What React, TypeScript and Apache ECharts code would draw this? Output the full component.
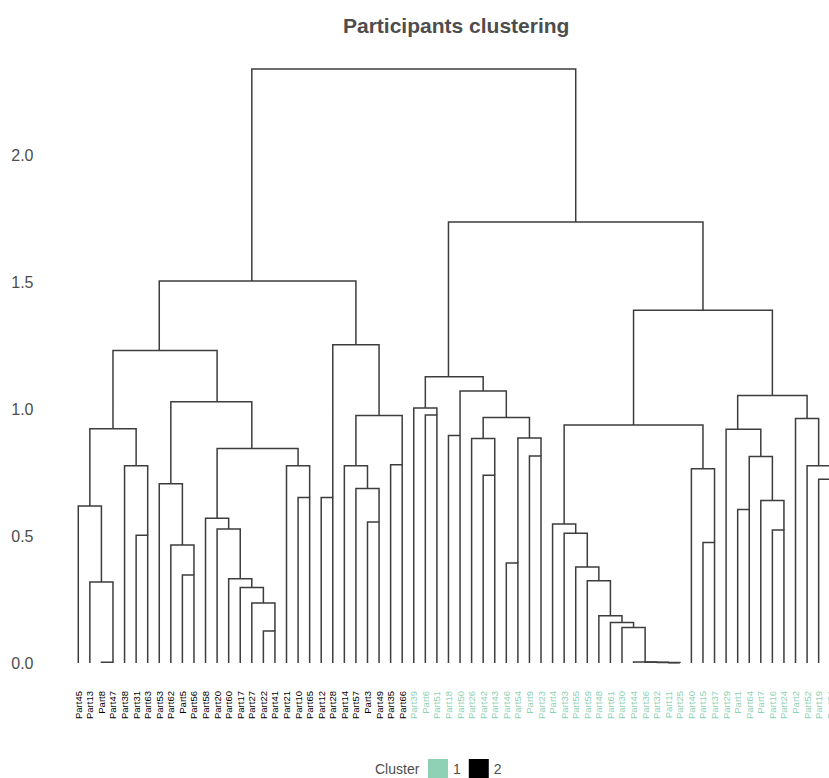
import React, { useEffect, useRef } from "react";
import * as echarts from "echarts";

// Leaf order (left to right) as shown in the dendrogram
const leaves = [
  "Part45", "Part13", "Part8", "Part47", "Part38", "Part31", "Part63", "Part53", "Part62", "Part5",
  "Part56", "Part58", "Part20", "Part60", "Part17", "Part27", "Part22", "Part41", "Part21", "Part10",
  "Part65", "Part12", "Part28", "Part14", "Part57", "Part3", "Part49", "Part35", "Part66", "Part39",
  "Part6", "Part51", "Part18", "Part50", "Part26", "Part42", "Part43", "Part46", "Part54", "Part9",
  "Part23", "Part4", "Part33", "Part55", "Part59", "Part48", "Part61", "Part30", "Part44", "Part36",
  "Part32", "Part11", "Part25", "Part40", "Part15", "Part37", "Part29", "Part1", "Part64", "Part7",
  "Part16", "Part24", "Part2", "Part52", "Part19", "Part34",
];

// Cluster of each leaf (same order as leaves)
const leafCluster = [
  2, 2, 2, 2, 2, 2, 2, 2, 2, 2, 2, 2, 2, 2, 2, 2, 2, 2, 2, 2, 2, 2, 2, 2, 2, 2, 2, 2, 2,
  1, 1, 1, 1, 1, 1, 1, 1, 1, 1, 1, 1, 1, 1, 1, 1, 1, 1, 1, 1, 1, 1, 1, 1, 1, 1, 1, 1, 1,
  1, 1, 1, 1, 1, 1, 1, 1,
];

// Merges: [left, right, height]; a string is a leaf, a number is an earlier merge
const merges: [string | number, string | number, number][] = [
  ["Part8", "Part47", 0.003], // 0
  ["Part13", 0, 0.319], // 1
  ["Part45", 1, 0.618], // 2
  ["Part31", "Part63", 0.503], // 3
  ["Part38", 3, 0.777], // 4
  [2, 4, 0.922], // 5
  ["Part5", "Part56", 0.346], // 6
  ["Part62", 6, 0.465], // 7
  ["Part53", 7, 0.706], // 8
  ["Part22", "Part41", 0.126], // 9
  ["Part27", 9, 0.236], // 10
  ["Part17", 10, 0.297], // 11
  ["Part60", 11, 0.332], // 12
  ["Part20", 12, 0.528], // 13
  ["Part58", 13, 0.57], // 14
  ["Part10", "Part65", 0.652], // 15
  ["Part21", 15, 0.777], // 16
  [14, 16, 0.844], // 17
  [8, 17, 1.029], // 18
  [5, 18, 1.23], // 19
  ["Part12", "Part28", 0.652], // 20
  ["Part3", "Part49", 0.555], // 21
  ["Part57", 21, 0.687], // 22
  ["Part14", 22, 0.777], // 23
  ["Part35", "Part66", 0.781], // 24
  [23, 24, 0.974], // 25
  [20, 25, 1.253], // 26
  [19, 26, 1.504], // 27
  ["Part6", "Part51", 0.976], // 28
  ["Part39", 28, 1.004], // 29
  ["Part18", "Part50", 0.896], // 30
  ["Part42", "Part43", 0.739], // 31
  ["Part26", 31, 0.884], // 32
  ["Part46", "Part54", 0.394], // 33
  ["Part9", "Part23", 0.815], // 34
  [33, 34, 0.886], // 35
  [32, 35, 0.967], // 36
  [30, 36, 1.071], // 37
  [29, 37, 1.127], // 38
  ["Part11", "Part25", 0.001], // 39
  ["Part32", 39, 0.002], // 40
  ["Part36", 40, 0.003], // 41
  ["Part44", 41, 0.004], // 42
  ["Part30", 42, 0.14], // 43
  ["Part61", 43, 0.159], // 44
  ["Part48", 44, 0.186], // 45
  ["Part59", 45, 0.324], // 46
  ["Part55", 46, 0.378], // 47
  ["Part33", 47, 0.511], // 48
  ["Part4", 48, 0.547], // 49
  ["Part15", "Part37", 0.474], // 50
  ["Part40", 50, 0.765], // 51
  [49, 51, 0.937], // 52
  ["Part1", "Part64", 0.604], // 53
  ["Part16", "Part24", 0.524], // 54
  ["Part7", 54, 0.64], // 55
  [53, 55, 0.813], // 56
  ["Part29", 56, 0.92], // 57
  ["Part19", "Part34", 0.723], // 58
  ["Part52", 58, 0.777], // 59
  ["Part2", 59, 0.963], // 60
  [57, 60, 1.053], // 61
  [52, 61, 1.389], // 62
  [38, 62, 1.736], // 63
  [27, 63, 2.339], // 64
];

const yTicks = [0, 0.5, 1.0, 1.5, 2.0];
const clusterNames = ["1", "2"];
const clusterColors = ["#8ed1b4", "#000000"];

const FONT = "'Liberation Sans', Arial, Helvetica, sans-serif";

function buildSegments() {
  const nodeX: number[] = [];
  const rows: number[][] = [];
  const ref = (r: string | number) =>
    typeof r === "string"
      ? { x: leaves.indexOf(r), h: 0 }
      : { x: nodeX[r], h: merges[r][2] };
  merges.forEach((m, i) => {
    const l = ref(m[0]);
    const r = ref(m[1]);
    nodeX[i] = (l.x + r.x) / 2;
    rows.push([l.x, l.h, r.x, r.h, m[2]]);
  });
  return rows;
}

export default function App() {
  const ref = useRef<HTMLDivElement>(null);
  useEffect(() => {
    if (!ref.current) return;
    const chart = echarts.init(ref.current, undefined, { renderer: "svg" });
    const segs = buildSegments();
    chart.setOption({
      animation: false,
      backgroundColor: "#ffffff",
      title: {
        text: "Participants clustering",
        left: 343,
        top: 15,
        padding: 0,
        textStyle: { fontSize: 21, fontWeight: "bold", color: "#4d4d4d", fontFamily: FONT },
      },
      grid: { left: 72.5, right: 0, top: 53.4, bottom: 115, containLabel: false },
      xAxis: {
        type: "category",
        data: leaves,
        boundaryGap: true,
        axisLine: { show: false },
        axisTick: { show: false },
        splitLine: { show: false },
        axisLabel: {
          interval: 0,
          rotate: 90,
          margin: 28,
          fontSize: 9.5,
          fontFamily: FONT,
          color: (_v: any, idx: number) =>
            clusterColors[clusterNames.indexOf(String(leafCluster[idx]))],
        },
      },
      yAxis: {
        type: "value",
        min: 0,
        max: 2.4,
        interval: 0.5,
        axisLine: { show: false },
        axisTick: { show: false },
        splitLine: { show: false },
        axisLabel: {
          margin: 39,
          fontSize: 16,
          color: "#4d4d4d",
          fontFamily: FONT,
          formatter: (v: number) =>
            yTicks.some((t) => Math.abs(t - v) < 1e-6) ? v.toFixed(1) : "",
        },
      },
      legend: {
        data: clusterNames,
        icon: "rect",
        left: 428,
        top: 759,
        padding: 0,
        itemWidth: 20,
        itemHeight: 20,
        itemGap: 8,
        selectedMode: false,
        textStyle: { fontSize: 14, color: "#4d4d4d", fontFamily: FONT },
      },
      graphic: [
        {
          type: "text",
          left: 375,
          top: 762,
          style: { text: "Cluster", fontSize: 14, fill: "#4d4d4d", fontFamily: FONT },
        },
      ],
      series: [
        {
          type: "custom",
          name: "tree",
          data: segs,
          encode: { x: [0, 2], y: [1, 3, 4] },
          clip: false,
          renderItem: (_params: any, api: any) => {
            const a = api.coord([api.value(0), api.value(1)]);
            const b = api.coord([api.value(0), api.value(4)]);
            const c = api.coord([api.value(2), api.value(4)]);
            const d = api.coord([api.value(2), api.value(3)]);
            return {
              type: "polyline",
              shape: { points: [a, b, c, d] },
              style: { stroke: "#3d3d3d", lineWidth: 1.5, fill: "none" },
            };
          },
        },
        ...clusterNames.map((n, i) => ({
          type: "bar",
          name: n,
          data: [],
          itemStyle: { color: clusterColors[i] },
        })),
      ],
    });
    return () => chart.dispose();
  }, []);
  return (
    <div
      style={{
        position: "absolute",
        left: 0,
        top: 0,
        width: 829,
        height: 778,
        overflow: "hidden",
      }}
    >
      <div ref={ref} style={{ width: 836, height: 778 }} />
    </div>
  );
}
